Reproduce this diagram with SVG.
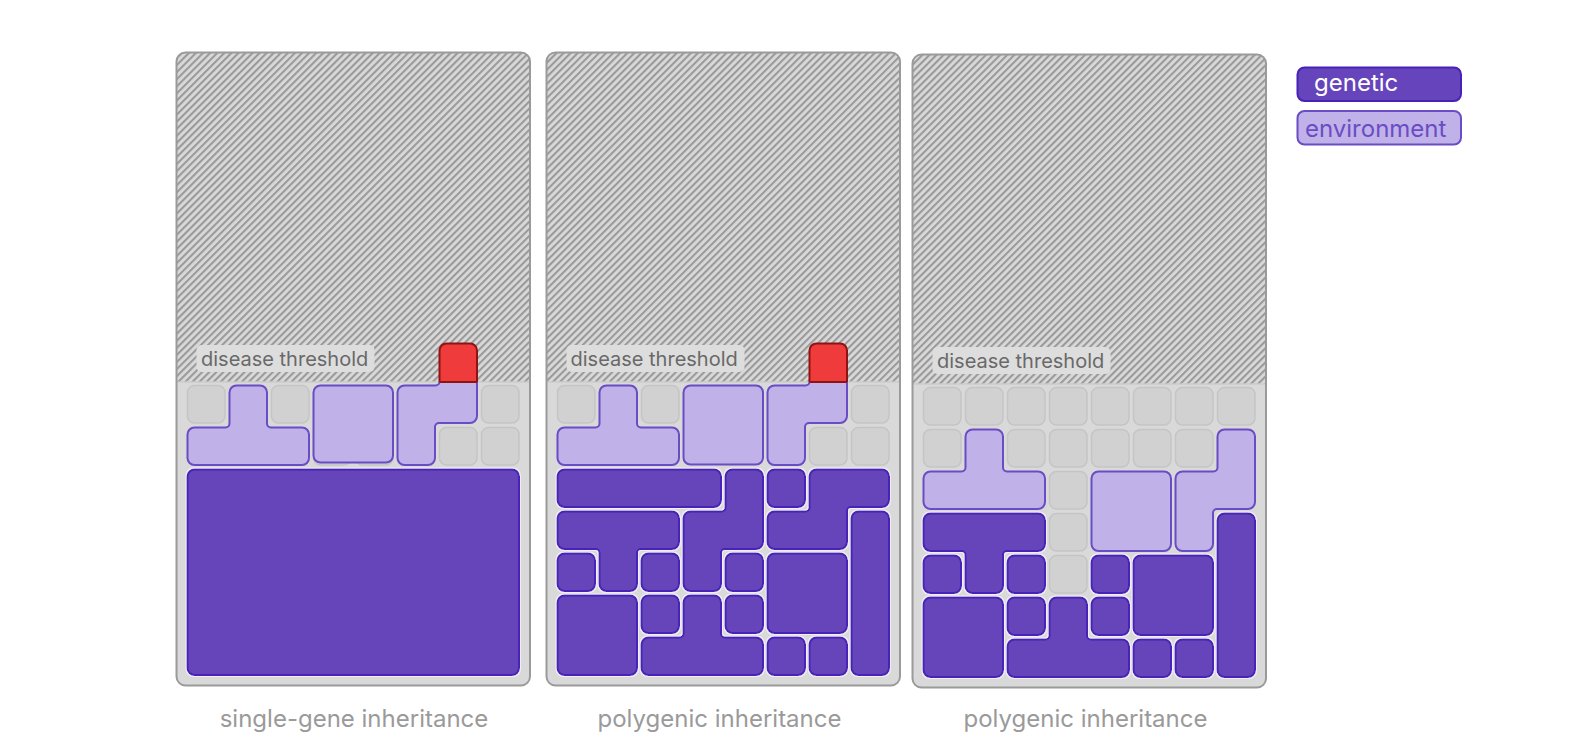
<svg xmlns="http://www.w3.org/2000/svg" xmlns:xlink="http://www.w3.org/1999/xlink" width="1584" height="736" viewBox="0 0 1584 736">
<style>
.bg{fill:#d9d9d9}
.frame{fill:none;stroke:#9a9a9a;stroke-width:2}
.hatch{fill:url(#hatch)}
.thr{stroke:#cbcbcb;stroke-width:1.5}
.tlb{fill:#dddddd}
.tl{font-family:Inter,"Noto Sans",sans-serif;font-size:20px;fill:#696969}
.gc{fill:#d1d1d1;stroke:#c5c5c5;stroke-width:1.5}
.lt{fill:#c0b2e8;stroke:#6a4cc4;stroke-width:2}
.dk{fill:#6644bb;stroke:#4822b8;stroke-width:2}
.rd{fill:#ef3b3b;stroke:#8e1414;stroke-width:2}
.rdl{stroke:#8e1414;stroke-width:2}
.cap{font-family:Inter,"Noto Sans",sans-serif;font-size:24px;fill:#9a9a9a;text-anchor:middle}
.lg{font-family:Inter,"Noto Sans",sans-serif;font-size:24px}
</style>
<defs>
<pattern id="hatch" patternUnits="userSpaceOnUse" width="5" height="5" patternTransform="rotate(45)">
<rect width="5" height="5" fill="#d9d9d9"/>
<rect width="2.1" height="5" fill="#9a9a9a"/>
</pattern>
<filter id="halo" x="-5%" y="-5%" width="110%" height="110%">
<feMorphology in="SourceAlpha" operator="dilate" radius="1" result="d"/>
<feFlood flood-color="#f1eef8"/>
<feComposite in2="d" operator="in" result="h"/>
<feMerge><feMergeNode in="h"/><feMergeNode in="SourceGraphic"/></feMerge>
</filter>
<clipPath id="clipAbove"><rect x="-20" y="-60" width="400" height="56.5"/></clipPath>
<clipPath id="clipBelow"><rect x="-20" y="-3.5" width="400" height="400"/></clipPath>
<path id="shA" d="M49 0L72.5 0A7 7 0 0 1 79.5 7L79.5 38A4 4 0 0 0 83.5 42L114.5 42A7 7 0 0 1 121.5 49L121.5 72.5A7 7 0 0 1 114.5 79.5L7 79.5A7 7 0 0 1 0 72.5L0 49A7 7 0 0 1 7 42L38 42A4 4 0 0 0 42 38L42 7A7 7 0 0 1 49 0Z"/>
<path id="shB" d="M7 0L114.5 0A7 7 0 0 1 121.5 7L121.5 30.5A7 7 0 0 1 114.5 37.5L83.5 37.5A4 4 0 0 0 79.5 41.5L79.5 72.5A7 7 0 0 1 72.5 79.5L49 79.5A7 7 0 0 1 42 72.5L42 41.5A4 4 0 0 0 38 37.5L7 37.5A7 7 0 0 1 0 30.5L0 7A7 7 0 0 1 7 0Z"/>
<path id="shD" d="M49 0L72.5 0A7 7 0 0 1 79.5 7L79.5 72.5A7 7 0 0 1 72.5 79.5L41.5 79.5A4 4 0 0 0 37.5 83.5L37.5 114.5A7 7 0 0 1 30.5 121.5L7 121.5A7 7 0 0 1 0 114.5L0 49A7 7 0 0 1 7 42L38 42A4 4 0 0 0 42 38L42 7A7 7 0 0 1 49 0Z"/>
<path id="shE" d="M49 0L114.5 0A7 7 0 0 1 121.5 7L121.5 30.5A7 7 0 0 1 114.5 37.5L83.5 37.5A4 4 0 0 0 79.5 41.5L79.5 72.5A7 7 0 0 1 72.5 79.5L7 79.5A7 7 0 0 1 0 72.5L0 49A7 7 0 0 1 7 42L38 42A4 4 0 0 0 42 38L42 7A7 7 0 0 1 49 0Z"/>
</defs>
<rect width="1584" height="736" fill="#ffffff"/>

<!-- Panel 1 -->
<g id="panel1">
<rect class="bg" x="176.5" y="52.5" width="353.5" height="633" rx="9"/>
<path class="hatch" d="M176.5 382V61.5A9 9 0 0 1 185.5 52.5H521A9 9 0 0 1 530 61.5V382Z"/>
<line class="thr" x1="177.5" y1="382" x2="529" y2="382"/>
<g id="p1-threshold"><rect class="tlb" x="196.5" y="345" width="178" height="27" rx="5"/><text class="tl" x="201" y="365.5">disease threshold</text></g>
<g id="p1-cells" transform="translate(187.5,385.5)">
<g id="p1-empty">
<rect class="gc" x="0" y="0" width="37.5" height="37.5" rx="7"/>
<rect class="gc" x="84" y="0" width="37.5" height="37.5" rx="7"/>
<rect class="gc" x="294" y="0" width="37.5" height="37.5" rx="7"/>
<rect class="gc" x="252" y="42" width="37.5" height="37.5" rx="7"/>
<rect class="gc" x="294" y="42" width="37.5" height="37.5" rx="7"/>
<rect class="gc" x="126" y="42" width="37.5" height="37.5" rx="7"/>
<rect class="gc" x="168" y="42" width="37.5" height="37.5" rx="7"/>
</g>
<g id="p1-env">
<use id="p1-env-t" href="#shA" class="lt" x="0" y="0"/>
<rect id="p1-env-sq" class="lt" x="126" y="0" width="79.5" height="77" rx="7"/>
</g>
<g id="p1-trigger">
<g clip-path="url(#clipBelow)"><use href="#shD" class="lt" x="210" y="-42"/></g>
<g clip-path="url(#clipAbove)"><use href="#shD" class="rd" x="210" y="-42"/></g>
<line class="rdl" x1="252" y1="-3.5" x2="289.5" y2="-3.5"/>
</g>
<g id="p1-gen" filter="url(#halo)">
<rect id="p1-gen-big" class="dk" x="0" y="84" width="331.5" height="205.5" rx="7"/>
</g>
</g>
<rect class="frame" x="176.5" y="52.5" width="353.5" height="633" rx="9"/>
</g>

<!-- Panel 2 -->
<g id="panel2">
<rect class="bg" x="546.5" y="52.5" width="353.5" height="633" rx="9"/>
<path class="hatch" d="M546.5 382V61.5A9 9 0 0 1 555.5 52.5H891A9 9 0 0 1 900 61.5V382Z"/>
<line class="thr" x1="547.5" y1="382" x2="899" y2="382"/>
<g id="p2-threshold"><rect class="tlb" x="566.5" y="345" width="178" height="27" rx="5"/><text class="tl" x="570.5" y="365.5">disease threshold</text></g>
<g id="p2-cells" transform="translate(557.5,385.5)">
<g id="p2-empty">
<rect class="gc" x="0" y="0" width="37.5" height="37.5" rx="7"/>
<rect class="gc" x="84" y="0" width="37.5" height="37.5" rx="7"/>
<rect class="gc" x="294" y="0" width="37.5" height="37.5" rx="7"/>
<rect class="gc" x="252" y="42" width="37.5" height="37.5" rx="7"/>
<rect class="gc" x="294" y="42" width="37.5" height="37.5" rx="7"/>
</g>
<g id="p2-env">
<use id="p2-env-t" href="#shA" class="lt" x="0" y="0"/>
<rect id="p2-env-sq" class="lt" x="126" y="0" width="79.5" height="79" rx="7"/>
</g>
<g id="p2-trigger">
<g clip-path="url(#clipBelow)"><use href="#shD" class="lt" x="210" y="-42"/></g>
<g clip-path="url(#clipAbove)"><use href="#shD" class="rd" x="210" y="-42"/></g>
<line class="rdl" x1="252" y1="-3.5" x2="289.5" y2="-3.5"/>
</g>
<g id="p2-gen" filter="url(#halo)">
<rect class="dk" x="0" y="84" width="163.5" height="37.5" rx="7"/>
<use href="#shD" class="dk" x="126" y="84"/>
<rect class="dk" x="210" y="84" width="37.5" height="37.5" rx="7"/>
<use href="#shE" class="dk" x="210" y="84"/>
<use href="#shB" class="dk" x="0" y="126"/>
<rect class="dk" x="294" y="126" width="37.5" height="163.5" rx="7"/>
<rect class="dk" x="0" y="168" width="37.5" height="37.5" rx="7"/>
<rect class="dk" x="84" y="168" width="37.5" height="37.5" rx="7"/>
<rect class="dk" x="168" y="168" width="37.5" height="37.5" rx="7"/>
<rect class="dk" x="210" y="168" width="79.5" height="79.5" rx="7"/>
<rect class="dk" x="0" y="210" width="79.5" height="79.5" rx="7"/>
<rect class="dk" x="84" y="210" width="37.5" height="37.5" rx="7"/>
<rect class="dk" x="168" y="210" width="37.5" height="37.5" rx="7"/>
<use href="#shA" class="dk" x="84" y="210"/>
<rect class="dk" x="210" y="252" width="37.5" height="37.5" rx="7"/>
<rect class="dk" x="252" y="252" width="37.5" height="37.5" rx="7"/>
</g>
</g>
<rect class="frame" x="546.5" y="52.5" width="353.5" height="633" rx="9"/>
</g>

<!-- Panel 3 -->
<g id="panel3">
<rect class="bg" x="912.5" y="54.5" width="353.5" height="633" rx="9"/>
<path class="hatch" d="M912.5 384V63.5A9 9 0 0 1 921.5 54.5H1257A9 9 0 0 1 1266 63.5V384Z"/>
<line class="thr" x1="913.5" y1="384" x2="1265" y2="384"/>
<g id="p3-threshold"><rect class="tlb" x="932.5" y="347" width="178" height="27" rx="5"/><text class="tl" x="937" y="367.5">disease threshold</text></g>
<g id="p3-cells" transform="translate(923.5,387.5)">
<g id="p3-empty">
<rect class="gc" x="0" y="0" width="37.5" height="37.5" rx="7"/>
<rect class="gc" x="42" y="0" width="37.5" height="37.5" rx="7"/>
<rect class="gc" x="84" y="0" width="37.5" height="37.5" rx="7"/>
<rect class="gc" x="126" y="0" width="37.5" height="37.5" rx="7"/>
<rect class="gc" x="168" y="0" width="37.5" height="37.5" rx="7"/>
<rect class="gc" x="210" y="0" width="37.5" height="37.5" rx="7"/>
<rect class="gc" x="252" y="0" width="37.5" height="37.5" rx="7"/>
<rect class="gc" x="294" y="0" width="37.5" height="37.5" rx="7"/>
<rect class="gc" x="0" y="42" width="37.5" height="37.5" rx="7"/>
<rect class="gc" x="84" y="42" width="37.5" height="37.5" rx="7"/>
<rect class="gc" x="126" y="42" width="37.5" height="37.5" rx="7"/>
<rect class="gc" x="168" y="42" width="37.5" height="37.5" rx="7"/>
<rect class="gc" x="210" y="42" width="37.5" height="37.5" rx="7"/>
<rect class="gc" x="252" y="42" width="37.5" height="37.5" rx="7"/>
<rect class="gc" x="126" y="84" width="37.5" height="37.5" rx="7"/>
<rect class="gc" x="126" y="126" width="37.5" height="37.5" rx="7"/>
<rect class="gc" x="126" y="168" width="37.5" height="37.5" rx="7"/>
</g>
<g id="p3-env">
<use href="#shA" class="lt" x="0" y="42"/>
<rect class="lt" x="168" y="84" width="79.5" height="79.5" rx="7"/>
<use href="#shD" class="lt" x="252" y="42"/>
</g>
<g id="p3-gen" filter="url(#halo)">
<use href="#shB" class="dk" x="0" y="126"/>
<rect class="dk" x="294" y="126" width="37.5" height="163.5" rx="7"/>
<rect class="dk" x="0" y="168" width="37.5" height="37.5" rx="7"/>
<rect class="dk" x="84" y="168" width="37.5" height="37.5" rx="7"/>
<rect class="dk" x="168" y="168" width="37.5" height="37.5" rx="7"/>
<rect class="dk" x="210" y="168" width="79.5" height="79.5" rx="7"/>
<rect class="dk" x="0" y="210" width="79.5" height="79.5" rx="7"/>
<rect class="dk" x="84" y="210" width="37.5" height="37.5" rx="7"/>
<rect class="dk" x="168" y="210" width="37.5" height="37.5" rx="7"/>
<use href="#shA" class="dk" x="84" y="210"/>
<rect class="dk" x="210" y="252" width="37.5" height="37.5" rx="7"/>
<rect class="dk" x="252" y="252" width="37.5" height="37.5" rx="7"/>
</g>
</g>
<rect class="frame" x="912.5" y="54.5" width="353.5" height="633" rx="9"/>
</g>

<!-- Captions -->
<g id="captions">
<text class="cap" x="354" y="727">single-gene inheritance</text>
<text class="cap" x="719.5" y="727">polygenic inheritance</text>
<text class="cap" x="1085.5" y="727">polygenic inheritance</text>
</g>

<!-- Legend -->
<g id="legend-genetic">
<rect class="dk" x="1297.5" y="67.5" width="163.5" height="33.5" rx="7"/>
<text class="lg" x="1314" y="90.5" fill="#ffffff">genetic</text>
</g>
<g id="legend-environment">
<rect class="lt" x="1297.5" y="111" width="163.5" height="33.5" rx="7"/>
<text class="lg" x="1305" y="136.5" fill="#6a4cc4">environment</text>
</g>
</svg>
